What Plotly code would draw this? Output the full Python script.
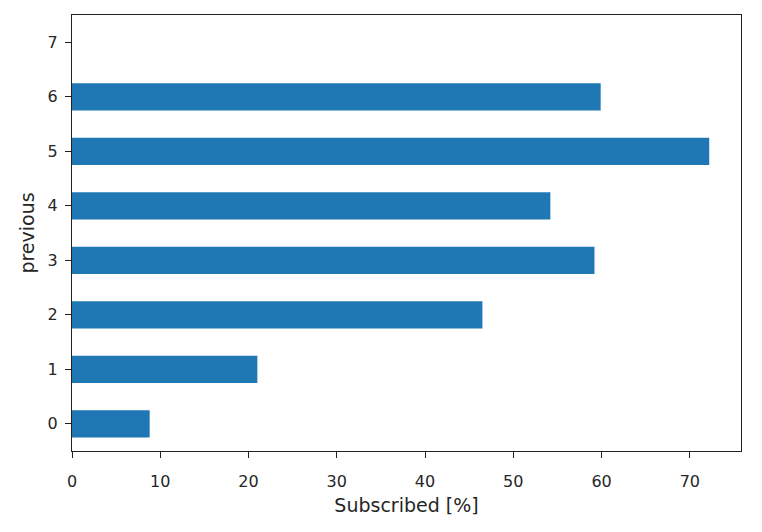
import plotly.graph_objects as go

# number of previous contacts vs share subscribed
previous = [0, 1, 2, 3, 4, 5, 6, 7]
subscribed_pct = [8.8, 21.0, 46.5, 59.2, 54.2, 72.2, 59.9, None]

x_ticks = [0, 10, 20, 30, 40, 50, 60, 70]

fig = go.Figure()

fig.add_trace(go.Bar(
    x=subscribed_pct,
    y=previous,
    orientation="h",
    width=0.5,
    marker=dict(color="#1f77b4", line=dict(width=0)),
))

axis_style = dict(
    showline=True,
    linecolor="#222222",
    linewidth=1.3,
    mirror=True,
    ticks="outside",
    ticklen=6,
    tickwidth=1.2,
    tickcolor="#222222",
    showgrid=False,
    zeroline=False,
)

# page body adds an 8px offset, so margins are trimmed to match
fig.update_layout(
    width=762,
    height=532,
    paper_bgcolor="white",
    plot_bgcolor="white",
    font=dict(family="DejaVu Sans", size=16, color="#262626"),
    margin=dict(l=64, r=29, t=7, b=89),
    showlegend=False,
    xaxis=dict(
        title=dict(text="Subscribed [%]", standoff=8),
        range=[0, 75.8],
        tickvals=x_ticks,
        ticklabelstandoff=10,
        **axis_style,
    ),
    yaxis=dict(
        title=dict(text="previous", standoff=7),
        range=[-0.5, 7.5],
        tickvals=previous,
        ticklabelstandoff=4,
        **axis_style,
    ),
)

fig.write_html("out.html")
